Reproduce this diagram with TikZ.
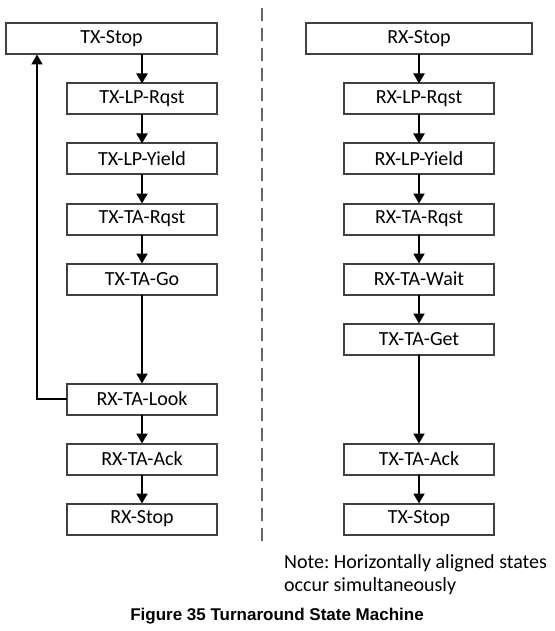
\documentclass[tikz,border=0pt]{standalone}
\usepackage{fontspec}
\setmainfont{Carlito}
\newfontfamily\captionfont{Liberation Sans}
\usetikzlibrary{shapes, arrows.meta, positioning}

\tikzset{
    state/.style={draw=black!75, line width=2pt,
        minimum width=150pt, minimum height=31pt, inner sep=0pt, outer sep=0pt,
        font=\fontsize{20}{24}\selectfont},
    flow/.style={-{Triangle[length=10pt,width=11pt]}, line width=2pt}
}

\begin{document}
\frenchspacing
\begin{tikzpicture}[node distance=29pt]
\useasboundingbox (0,0) rectangle (554pt,-631pt);

% TX side
\node[state, minimum width=211pt] (txstop) at (111.5pt,-39pt) {TX-Stop};

\node[state,
    below=of txstop, xshift=30.5pt
] (txlprqst) {TX-LP-Rqst};

\node[state, below=of txlprqst] (txlpyield) {TX-LP-Yield};

\node[state, below=of txlpyield] (txtarqst) {TX-TA-Rqst};

\node[state, below=of txtarqst] (txtago) {TX-TA-Go};

\node[state,
    below=of txtago, yshift=-60pt
] (rxtalook) {RX-TA-Look};

\node[state, below=of rxtalook] (rxtaack) {RX-TA-Ack};

\node[state, below=of rxtaack] (rxstopend) {RX-Stop};

% RX side
\node[state, minimum width=226pt] (rxstop) at (419pt,-39pt) {RX-Stop};

\node[state, below=of rxstop] (rxlprqst) {RX-LP-Rqst};

\node[state, below=of rxlprqst] (rxlpyield) {RX-LP-Yield};

\node[state, below=of rxlpyield] (rxtarqst) {RX-TA-Rqst};

\node[state, below=of rxtarqst] (rxtawait) {RX-TA-Wait};

\node[state, below=of rxtawait] (txtaget) {TX-TA-Get};

\node[state,
    below=of txtaget, yshift=-60pt
] (txtaack) {TX-TA-Ack};

\node[state, below=of txtaack] (txstopend) {TX-Stop};

% divider
\coordinate (divtop) at (262pt,-8pt);
\coordinate (divbot) at (262pt,-542pt);
\draw[black!60, line width=1.5pt, dash pattern=on 13pt off 7pt] (divtop) -- (divbot);

% note and caption
\node[anchor=north west, inner sep=0pt, align=left,
    font=\fontsize{20}{23}\selectfont
] (note) at (284pt,-554pt) {Note: Horizontally aligned states\\occur simultaneously};

\node[anchor=base, inner sep=0pt,
    font=\captionfont\bfseries\fontsize{17}{20}\selectfont
] (caption) at (277pt,-620pt) {Figure 35 Turnaround State Machine};

% Arrows
\draw[flow] (txlprqst |- txstop.south) -- (txlprqst.north);
\draw[flow] (txlprqst) -- (txlpyield);
\draw[flow] (txlpyield) -- (txtarqst);
\draw[flow] (txtarqst) -- (txtago);
\draw[flow] (txtago) -- (rxtalook);
\draw[flow] (rxtalook) -- (rxtaack);
\draw[flow] (rxtaack) -- (rxstopend);
\draw[flow] (rxtalook.west) -| ([xshift=31pt]txstop.south west);

\draw[flow] (rxstop) -- (rxlprqst);
\draw[flow] (rxlprqst) -- (rxlpyield);
\draw[flow] (rxlpyield) -- (rxtarqst);
\draw[flow] (rxtarqst) -- (rxtawait);
\draw[flow] (rxtawait) -- (txtaget);
\draw[flow] (txtaget) -- (txtaack);
\draw[flow] (txtaack) -- (txstopend);

\end{tikzpicture}
\end{document}
